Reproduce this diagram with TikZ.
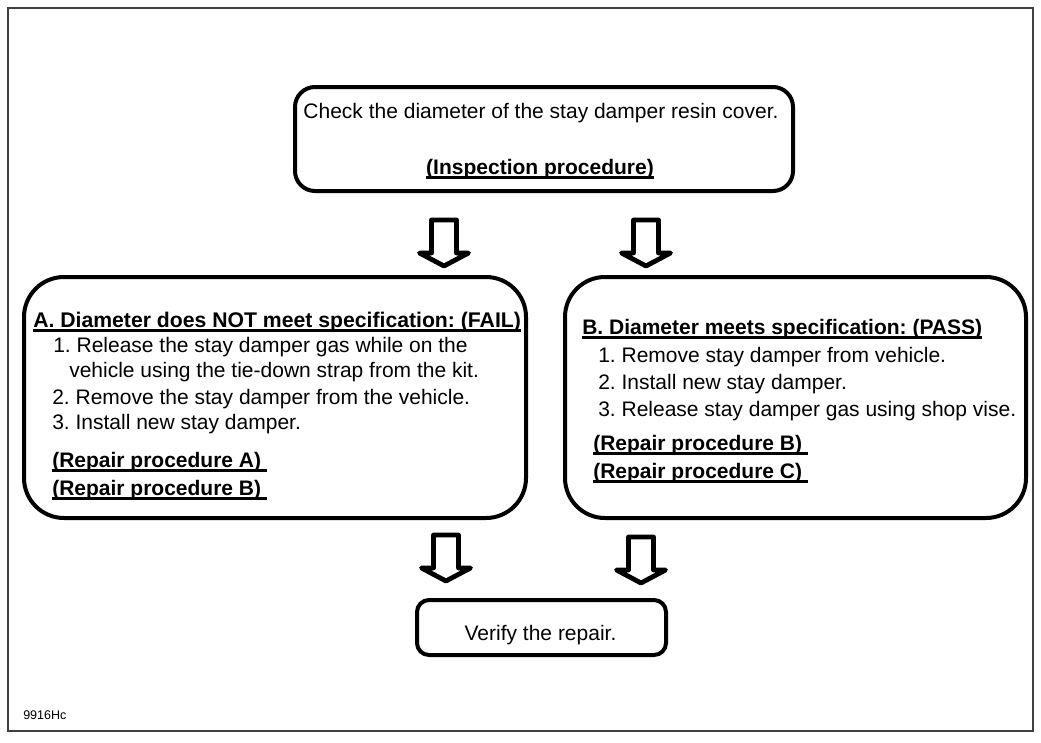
\documentclass[tikz,border=0pt]{standalone}
\usepackage{fontspec}
\setmainfont{Liberation Sans}
\frenchspacing
\newsavebox{\ulbox}
\newcommand{\ulbar}[1]{\sbox{\ulbox}{#1}\rlap{\rule[-3.4pt]{\wd\ulbox}{2.2pt}}\usebox{\ulbox}}
\tikzset{%
    base/.style = {
        rectangle, draw=black, line width=3pt, inner sep=0pt
    },
    topBox/.style = {base, rounded corners=15pt,
        minimum width=373.5pt, minimum height=78pt},
    caseBox/.style = {base, rounded corners=30pt, minimum height=180.75pt},
    verifyBox/.style = {base, rounded corners=9pt,
        minimum width=186.75pt, minimum height=41.25pt},
    textLine/.style = {anchor=base west, inner sep=0pt,
        font=\fontsize{15.75pt}{18pt}\selectfont},
    headLine/.style = {textLine, font=\fontsize{15.75pt}{18pt}\selectfont\bfseries},
    downArrow/.pic = {
        \draw[line width=3.6pt, line join=round]
            (-12.5,0) -- (-12.5,33) -- (-24.5,33) -- (0,46) -- (24.5,33)
            -- (12.5,33) -- (12.5,0) -- cycle;
    },
}
\begin{document}
\begin{tikzpicture}[x=0.75pt, y=-0.75pt]
    \useasboundingbox (0,0) rectangle (1041,742);
    \draw[line width=1pt, black!75] (8,8) rectangle (1033,731);

    % Boxes
    \node (checkBox)  [topBox]    at (544,139) {};
    \node (failBox)   [caseBox, minimum width=376.5pt] at (275,397.5) {};
    \node (passBox)   [caseBox, minimum width=345.75pt] at (795.5,397.5) {};
    \node (verifyBox) [verifyBox] at (541.5,627.5) {};

    % Texts
    \node (checkText) [textLine, anchor=base] at (541,118)
        {Check the diameter of the stay damper resin cover.};
    \node (inspText)  [headLine, anchor=base] at (540,174)
        {\ulbar{(Inspection procedure)}};

    \node (failHead) [headLine, font=\fontsize{15.9pt}{18pt}\selectfont\bfseries] at (33,327)
        {\ulbar{A. Diameter does NOT meet specification: (FAIL)}};
    \node (failOne)   [textLine] at (53,352) {1. Release the stay damper gas while on the};
    \node (failOneB)  [textLine] at (69,377.5) {vehicle using the tie-down strap from the kit.};
    \node (failTwo)   [textLine] at (52,404) {2. Remove the stay damper from the vehicle.};
    \node (failThree) [textLine] at (52,429) {3. Install new stay damper.};
    \node (failRepA)  [headLine] at (52,467) {\ulbar{(Repair procedure A)\ }};
    \node (failRepB)  [headLine] at (52,495) {\ulbar{(Repair procedure B)\ }};

    \node (passHead) [headLine] at (582,334)
        {\ulbar{B. Diameter meets specification: (PASS)}};
    \node (passOne)   [textLine] at (598,362) {1. Remove stay damper from vehicle.};
    \node (passTwo)   [textLine] at (598,389) {2. Install new stay damper.};
    \node (passThree) [textLine] at (598,416) {3. Release stay damper gas using shop vise.};
    \node (passRepB)  [headLine] at (593,450) {\ulbar{(Repair procedure B)\ }};
    \node (passRepC)  [headLine] at (593,478) {\ulbar{(Repair procedure C)\ }};

    \node (verifyText) [textLine, anchor=base] at (540.5,640) {Verify the repair.};

    \node (figCode) [anchor=base west, inner sep=0pt, font=\fontsize{9.4pt}{11pt}\selectfont]
        at (23,719) {9916Hc};

    % Arrows
    \pic at (444,220) {downArrow};
    \pic at (646,220) {downArrow};
    \pic at (446,535) {downArrow};
    \pic at (641,537) {downArrow};
\end{tikzpicture}
\end{document}
